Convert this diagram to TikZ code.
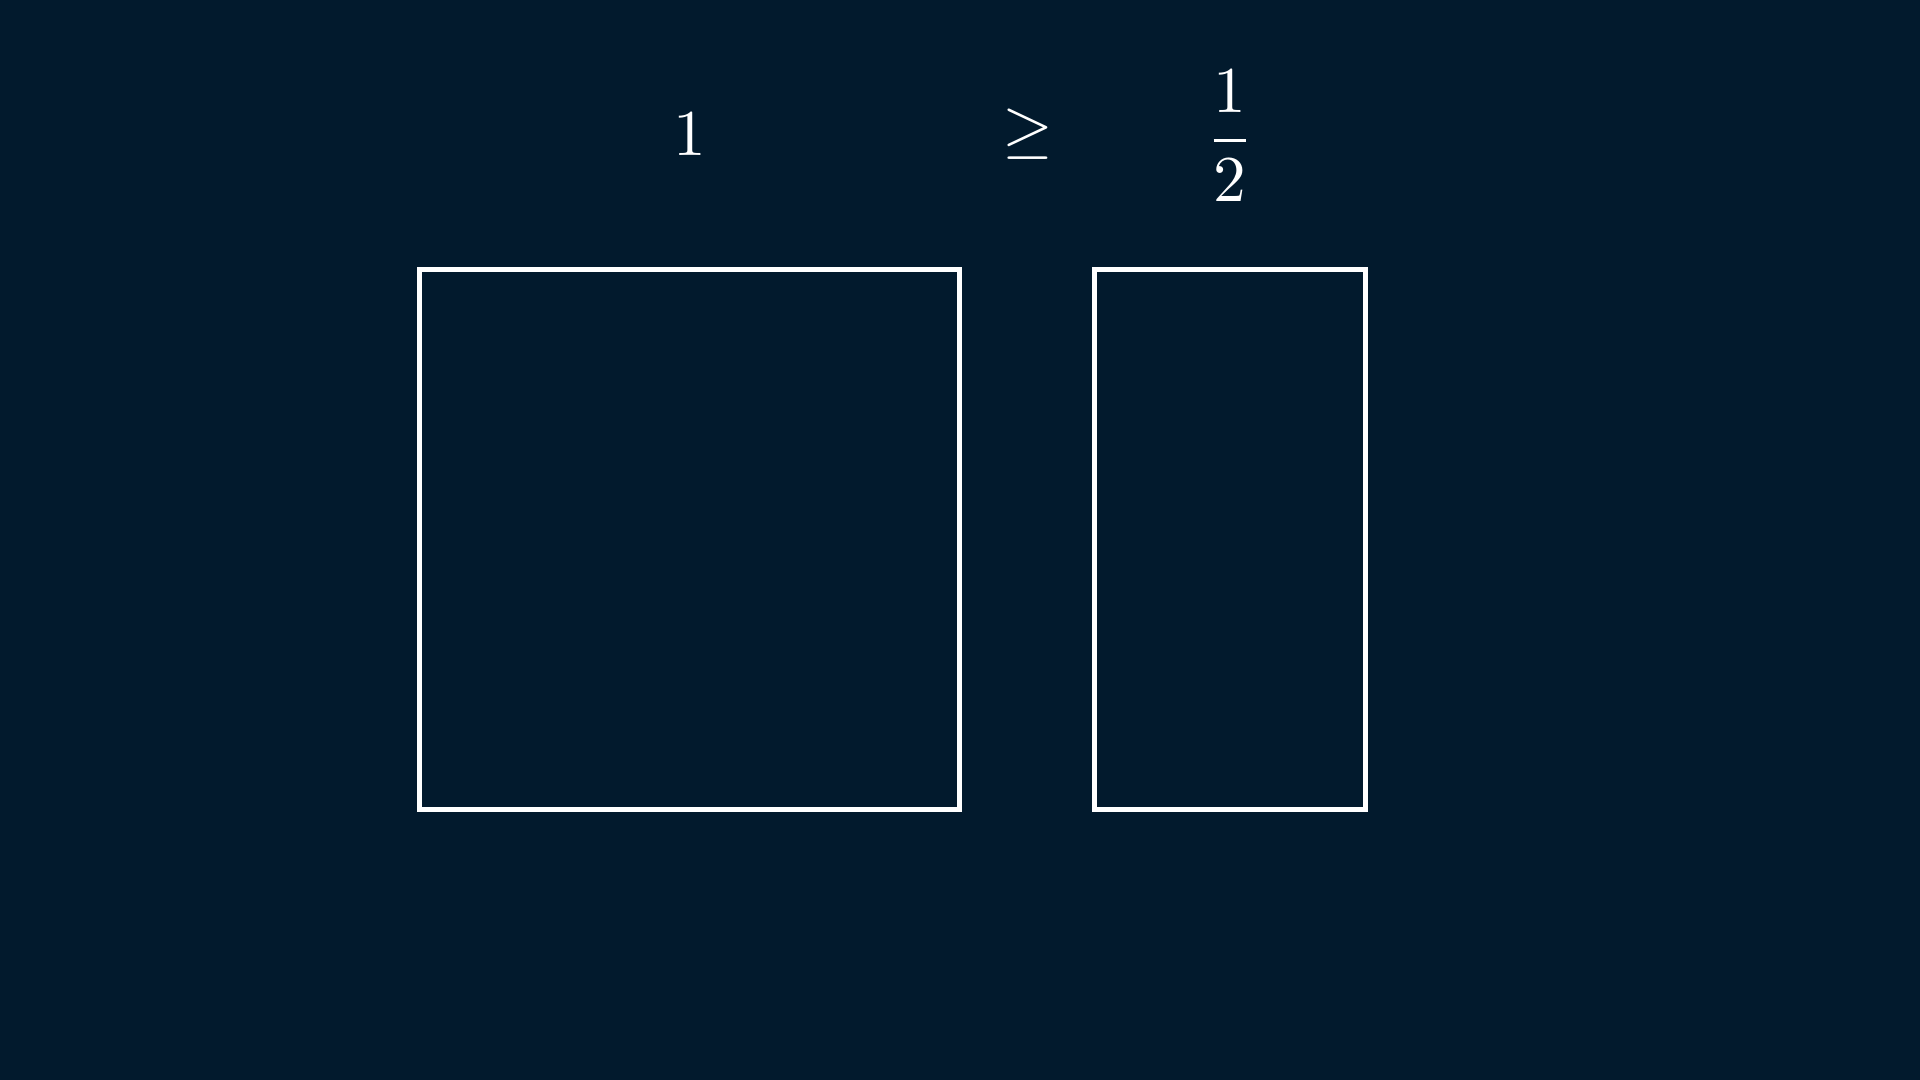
\documentclass[tikz,border=0pt]{standalone}
\definecolor{fondo}{HTML}{021A2D}
\begin{document}
\begin{tikzpicture}[line width=1.42pt, line join=miter, white,
  cifra/.style={inner sep=0pt, scale=1.86}]
  % el fondo, que fija los margenes
  \fill[fondo] (0,0) rectangle (19.2,10.8);
  % los dos rectangulos
  \draw (4.195,8.105) rectangle (9.595,2.705);
  \draw (10.945,8.105) rectangle (13.65,2.705);
  % arriba, la desigualdad
  \node[cifra] (uno) at (6.90,9.455) {$1$};
  \node[cifra] (mayorigual) at (10.275,9.455) {$\geq$};
  \node[cifra] (medio) at (12.30,9.44) {$\displaystyle\frac{1}{2}$};
\end{tikzpicture}
\end{document}
